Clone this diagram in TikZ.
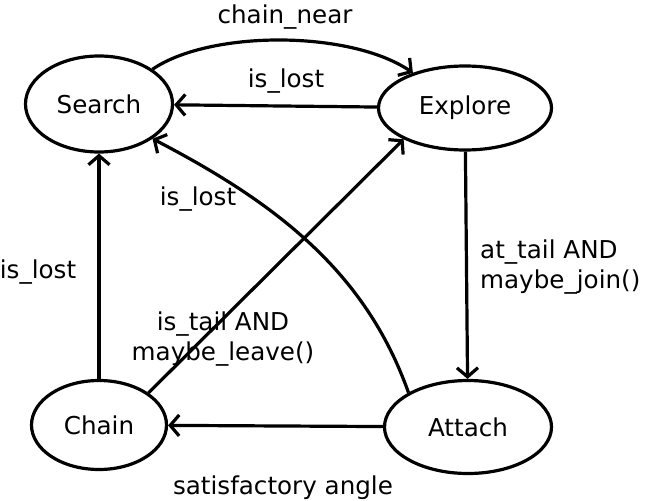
\documentclass[tikz,border=0pt]{standalone}
\usepackage{fontspec}
\setmainfont{DejaVu Sans}
\usetikzlibrary{shapes.geometric,arrows.meta}
\begin{document}
\begin{tikzpicture}[x=1pt,y=-1pt,
  state/.style={draw,ellipse,line width=3.2pt,inner sep=0pt},
  lbl/.style={inner sep=0pt,anchor=base},
  edge/.style={line width=3.2pt,-{Straight Barb[length=9pt,width=21pt,line width=3.2pt]}},
  every node/.style={font=\fontsize{24.6}{30}\selectfont}]
\useasboundingbox (0,0) rectangle (652,500);
\node[state,minimum width=147pt,minimum height=96pt] (search) at (99,104) {Search};
\node[state,minimum width=173pt,minimum height=84pt] (explore) at (465,108) {Explore};
\node[state,minimum width=135pt,minimum height=89pt] (chain) at (99,425) {Chain};
\node[state,minimum width=167pt,minimum height=93pt] (attach) at (468,427) {Attach};
% edges
\draw[edge] (search.33) .. controls (210,30) and (350,30) .. (explore.146);
\draw[edge] (explore) -- (search);
\draw[edge] (attach.150) .. controls (365,270) and (274,202) .. (search.-33);
\draw[edge] (chain.33) -- (explore.207);
\draw[edge] (explore) -- (attach);
\draw[edge] (chain) -- (search);
\draw[edge] (attach) -- (chain);
% labels
\node[lbl] (l1) at (285,24) {chain\_near};
\node[lbl] (l2) at (286,88) {is\_lost};
\node[lbl] (l3) at (198,205) {is\_lost};
\node[lbl] (l4) at (38,278) {is\_lost};
\node[lbl,anchor=base west,align=left] (l5) at (480,288) {at\_tail AND\\maybe\_join()};
\node[lbl,align=center] (l6) at (223,360) {is\_tail AND\\maybe\_leave()};
\node[lbl] (l7) at (283,494) {satisfactory angle};
\end{tikzpicture}
\end{document}
